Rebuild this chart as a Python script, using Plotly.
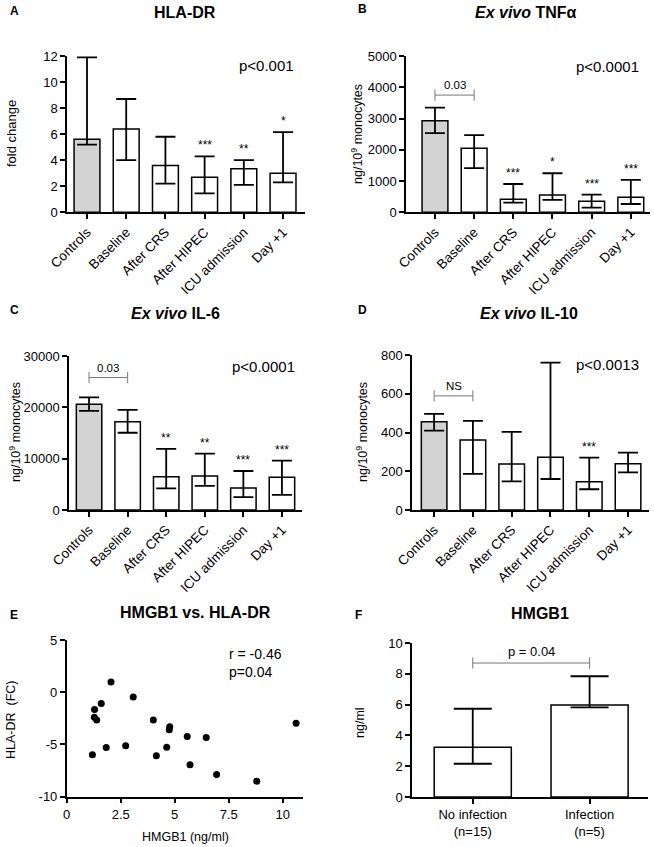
import plotly.graph_objects as go

W, H = 654, 847
FONT = "Liberation Sans, Arial, sans-serif"

# ---------------- data ----------------
time_cats = ["Controls", "Baseline", "After CRS", "After HIPEC", "ICU admission", "Day +1"]

hla_val = [5.6, 6.4, 3.6, 2.7, 3.35, 3.0]
hla_hi = [11.9, 8.7, 5.8, 4.3, 4.0, 6.15]
hla_lo = [5.2, 4.0, 2.2, 1.45, 2.1, 2.3]
hla_stars = ["", "", "", "***", "**", "*"]

tnf_val = [2930, 2050, 415, 555, 350, 480]
tnf_hi = [3350, 2470, 905, 1250, 565, 1035]
tnf_lo = [2530, 1410, 310, 395, 150, 265]
tnf_stars = ["", "", "***", "*", "***", "***"]

il6_val = [20600, 17200, 6500, 6600, 4300, 6400]
il6_hi = [21950, 19500, 11900, 11000, 7600, 9600]
il6_lo = [19300, 15050, 4200, 4700, 2500, 2950]
il6_stars = ["", "", "**", "**", "***", "***"]

il10_val = [456, 361, 237, 272, 146, 239]
il10_hi = [496, 460, 403, 761, 270, 296]
il10_lo = [410, 186, 148, 160, 107, 194]
il10_stars = ["", "", "", "", "***", ""]

hmgb1_x = [1.19, 1.28, 1.29, 1.39, 1.60, 1.83, 2.05, 2.73, 3.08, 4.01,
           4.15, 4.63, 4.75, 4.77, 5.58, 5.71, 6.46, 6.94, 8.80, 10.62]
hladr_y = [-5.99, -2.39, -1.66, -2.65, -1.09, -5.29, 0.98, -5.13, -0.45, -2.65,
           -6.08, -5.26, -3.60, -3.31, -4.24, -6.94, -4.33, -7.87, -8.51, -2.96]

inf_cats = ["No infection<br>(n=15)", "Infection<br>(n=5)"]
inf_val = [3.23, 5.97]
inf_hi = [5.73, 7.84]
inf_lo = [2.16, 5.82]

bar_fill = ["#d3d3d3", "white", "white", "white", "white", "white"]

# bracket (comparison) levels and labels
brackets = {
    "A": (12.7, "NS"),
    "B": (3750, "0.03"),
    "C": (25800, "0.03"),
    "D": (589, "NS"),
    "F": (8.7, "p = 0.04"),
}

# ---------------- layout helpers ----------------
def px_x(x):
    return x / W

def px_y(y):
    return 1 - y / H

panels = {
    # name: (axis id, x-dom px, y-dom px, x-range)
    "A": ("", (67, 305), (56, 212.3), [-0.51, 5.56]),
    "B": ("2", (406, 650), (56, 212.3), [-0.74, 5.49]),
    "C": ("3", (69, 302), (356, 510), [-0.52, 5.52]),
    "D": ("4", (412, 649), (355, 510), [-0.57, 5.54]),
    "E": ("5", (66.7, 303), (640, 796.7), [0, 10.94]),
    "F": ("6", (412, 648), (643, 797), [-0.52, 1.5]),
}

fig = go.Figure()
annotations = []

axis_common = dict(
    showline=True, linecolor="black", linewidth=1.5,
    ticks="outside", ticklen=5, tickwidth=1.5, tickcolor="black",
    showgrid=False, zeroline=False, automargin=False,
    tickfont=dict(family=FONT, size=13, color="black"),
)

yinfo = {
    "A": ([0, 12], list(range(0, 13, 2))),
    "B": ([0, 5000], list(range(0, 5001, 1000))),
    "C": ([0, 30000], [0, 10000, 20000, 30000]),
    "D": ([0, 800], [0, 200, 400, 600, 800]),
    "E": ([-10, 5], [-10, -5, 0, 5]),
    "F": ([0, 10], [0, 2, 4, 6, 8, 10]),
}

for name, (aid, xd, yd, xr) in panels.items():
    xa = "xaxis" + aid
    ya = "yaxis" + aid
    xkw = dict(axis_common)
    xkw.update(domain=[px_x(xd[0]), px_x(xd[1])], anchor="y" + aid, range=xr)
    ykw = dict(axis_common)
    yr, yt = yinfo[name]
    ykw.update(domain=[px_y(yd[1]), px_y(yd[0])], anchor="x" + aid, range=yr,
               tickvals=yt, ticktext=[str(v) for v in yt])
    if name in "ABCD":
        xkw.update(tickvals=list(range(len(time_cats))), ticktext=time_cats, tickangle=-45,
                   tickfont=dict(family=FONT, size=13.5, color="black"))
    elif name == "F":
        xkw.update(tickvals=list(range(len(inf_cats))), ticktext=inf_cats, tickangle=0,
                   tickfont=dict(family=FONT, size=13, color="black"))
    else:
        tv = [0, 2.5, 5, 7.5, 10]
        xkw.update(tickvals=tv, ticktext=["0", "2.5", "5", "7.5", "10"])
    fig.update_layout(**{xa: xkw, ya: ykw})


def add_bars(name, cats, val, hi, lo, fills, stars, capw=10):
    aid = panels[name][0]
    xs = list(range(len(cats)))
    fig.add_trace(go.Bar(
        x=xs, y=val, width=0.66,
        marker=dict(color=fills, line=dict(color="black", width=1.5)),
        error_y=dict(type="data", symmetric=False,
                     array=[h - v for h, v in zip(hi, val)],
                     arrayminus=[v - l for v, l in zip(val, lo)],
                     color="black", thickness=1.8, width=capw),
        xaxis="x" + aid, yaxis="y" + aid, showlegend=False, hoverinfo="skip",
    ))
    if stars:
        for i, s in enumerate(stars):
            if s:
                annotations.append(dict(
                    x=xs[i], y=hi[i], xref="x" + aid, yref="y" + aid,
                    text=s, showarrow=False, yanchor="bottom", yshift=2,
                    font=dict(family=FONT, size=12, color="black")))
    if name in brackets:
        by, lab = brackets[name]
        fig.add_trace(go.Scatter(
            x=[0, 1], y=[by, by], mode="lines+markers",
            line=dict(color="#777777", width=1),
            marker=dict(symbol="line-ns", size=8, line=dict(color="#777777", width=1)),
            xaxis="x" + aid, yaxis="y" + aid, cliponaxis=False,
            showlegend=False, hoverinfo="skip"))
        annotations.append(dict(
            x=0.5, y=by, xref="x" + aid, yref="y" + aid, text=lab,
            showarrow=False, yanchor="bottom", yshift=2,
            font=dict(family=FONT, size=11.5 if name != "F" else 13, color="black")))


add_bars("A", time_cats, hla_val, hla_hi, hla_lo, bar_fill, hla_stars)
add_bars("B", time_cats, tnf_val, tnf_hi, tnf_lo, bar_fill, tnf_stars)
add_bars("C", time_cats, il6_val, il6_hi, il6_lo, bar_fill, il6_stars)
add_bars("D", time_cats, il10_val, il10_hi, il10_lo, bar_fill, il10_stars)
add_bars("F", inf_cats, inf_val, inf_hi, inf_lo, ["white", "white"], None, capw=19)

fig.add_trace(go.Scatter(
    x=hmgb1_x, y=hladr_y, mode="markers",
    marker=dict(color="black", size=7),
    xaxis="x5", yaxis="y5", cliponaxis=False, showlegend=False, hoverinfo="skip"))


def text_px(x, y, text, size, bold=False, angle=0, xanchor="center", yanchor="middle"):
    annotations.append(dict(
        x=px_x(x), y=px_y(y), xref="paper", yref="paper",
        text=("<b>%s</b>" % text) if bold else text,
        showarrow=False, textangle=angle, xanchor=xanchor, yanchor=yanchor,
        font=dict(family=FONT, size=size, color="black")))


# panel letters
for lab, (lx, ly) in {"A": (8, 11), "B": (356, 9), "C": (8, 310), "D": (356, 310),
                      "E": (8, 615), "F": (353, 615)}.items():
    text_px(lx, ly, lab, 12, bold=True, xanchor="left")

# titles
text_px(185, 13, "HLA-DR", 16, bold=True)
text_px(526, 13, "<i>Ex vivo</i> TNFα", 16, bold=True)
text_px(175, 313, "<i>Ex vivo</i> IL-6", 16, bold=True)
text_px(529, 313, "<i>Ex vivo</i> IL-10", 16, bold=True)
text_px(195, 612, "HMGB1 vs. HLA-DR", 16, bold=True)
text_px(540, 613, "HMGB1", 16, bold=True)

# axis titles
text_px(11, 134, "fold change", 13, angle=-90)
text_px(357, 134, "ng/10<sup>9</sup> monocytes", 12.5, angle=-90)
text_px(15, 432, "ng/10<sup>9</sup> monocytes", 12.5, angle=-90)
text_px(362, 432, "ng/10<sup>9</sup> monocytes", 12.5, angle=-90)
text_px(11, 720, "HLA-DR  (FC)", 12.5, angle=-90)
text_px(360, 723, "ng/ml", 12.5, angle=-90)
text_px(185, 837, "HMGB1 (ng/ml)", 12.5)

# p-values
text_px(237, 65, "p<0.001", 15, xanchor="left")
text_px(574, 66, "p<0.0001", 15, xanchor="left")
text_px(230, 366, "p<0.0001", 15, xanchor="left")
text_px(574, 364, "p<0.0013", 15, xanchor="left")
annotations.append(dict(
    x=px_x(227), y=px_y(644), xref="paper", yref="paper",
    text="r = -0.46<br>p=0.04", showarrow=False, xanchor="left", yanchor="top", align="left",
    font=dict(family=FONT, size=14, color="black")))

fig.update_layout(
    width=W, height=H, margin=dict(l=0, r=0, t=0, b=0, pad=0, autoexpand=False),
    paper_bgcolor="white", plot_bgcolor="white",
    showlegend=False, annotations=annotations,
    font=dict(family=FONT, color="black"),
)

fig.write_html("out.html", config={"displayModeBar": False},
               post_script="document.body.style.margin='0px';")
